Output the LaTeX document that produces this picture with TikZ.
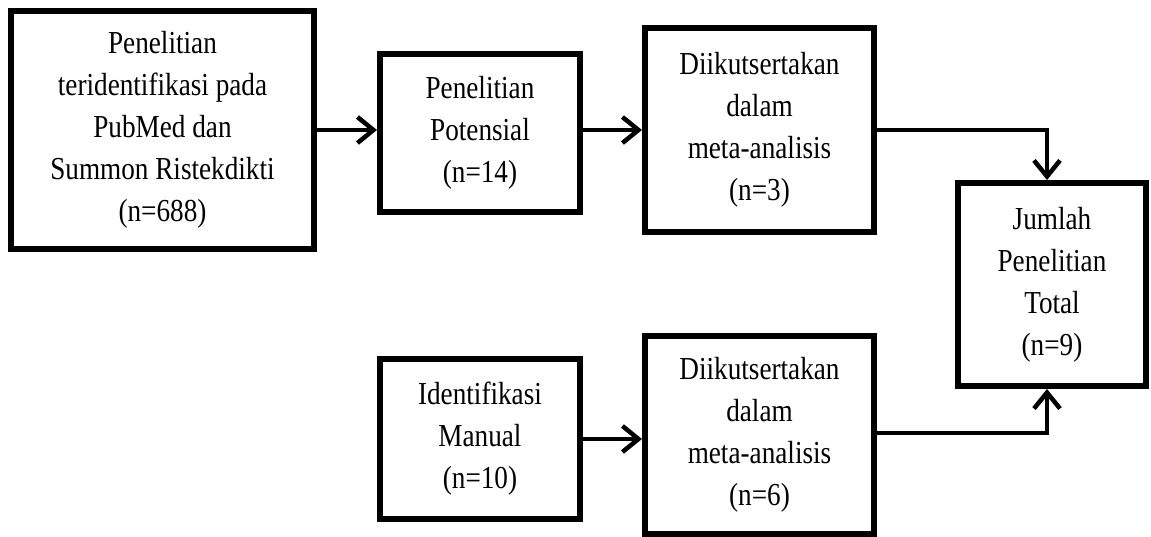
\documentclass[tikz,border=0pt]{standalone}
\usepackage{fontspec}
\setmainfont{Liberation Serif}[FakeStretch=0.85]
\usetikzlibrary{arrows.meta}
\begin{document}
\begin{tikzpicture}[x=1pt,y=-1pt,
  box/.style={draw=black,line width=6pt,fill=white,align=center,inner sep=0pt,
    font=\fontsize{32}{42}\selectfont},
  conn/.style={draw=black,line width=4.5pt,-{Straight Barb[length=16pt,width=26pt,line width=4.5pt]}}]
\useasboundingbox (0,0) rectangle (1151,537);
\node[box,minimum width=303pt,minimum height=238pt] (b1) at (162.5,130)
  {Penelitian\\teridentifikasi pada\\PubMed dan\\Summon Ristekdikti\\(n=688)};
\node[box,minimum width=200pt,minimum height=158pt] (b2) at (480,133)
  {Penelitian\\Potensial\\(n=14)};
\node[box,minimum width=229pt,minimum height=204pt] (b3) at (759.5,130)
  {Diikutsertakan\\dalam\\meta-analisis\\(n=3)};
\node[box,minimum width=188pt,minimum height=203pt] (J) at (1052,284.5)
  {Jumlah\\Penelitian\\Total\\(n=9)};
\node[box,minimum width=200pt,minimum height=160pt] (b5) at (480,439)
  {Identifikasi\\Manual\\(n=10)};
\node[box,minimum width=229pt,minimum height=198pt] (b6) at (759.5,435)
  {Diikutsertakan\\dalam\\meta-analisis\\(n=6)};
\draw[conn] (b1.east) -- (b1.east -| b2.west);
\draw[conn] (b2.east |- b3.west) -- (b3.west);
\draw[conn] (b5.east) -- (b5.east -| b6.west);
\draw[conn] (b3.east) -| ([xshift=-5pt]J.north);
\draw[conn] ([yshift=2pt]b6.east) -| ([xshift=-5pt]J.south);
\end{tikzpicture}
\end{document}
